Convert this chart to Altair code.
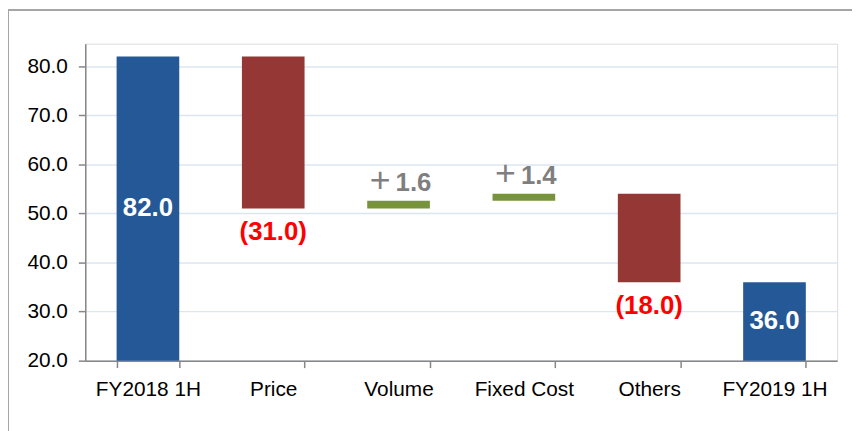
import altair as alt
import pandas as pd

categories = ["FY2018 1H", "Price", "Volume", "Fixed Cost", "Others", "FY2019 1H"]
amounts = [82.0, -31.0, 1.6, 1.4, -18.0, 36.0]
kinds = ["total", "delta", "delta", "delta", "delta", "total"]

y_ticks = [20, 30, 40, 50, 60, 70, 80]

rows = []
running = 0.0
for cat, amt, kind in zip(categories, amounts, kinds):
    if kind == "total":
        start, end = 0.0, amt
        running = amt
        label = f"{amt:.1f}"
        color = "#255896"
        ltype = "inside"
    else:
        start, end = running, running + amt
        running = end
        if amt < 0:
            label = f"({abs(amt):.1f})"
            color = "#953735"
            ltype = "below"
        else:
            label = f"{amt:.1f}"
            color = "#77933C"
            ltype = "above"
    rows.append(dict(cat=cat, start=start, end=end, lo=min(start, end), hi=max(start, end),
                     mid=(max(20.0, min(start, end)) + max(start, end)) / 2,
                     label=label, color=color, ltype=ltype))
df = pd.DataFrame(rows)

W, H = 759, 320
FONT = "Liberation Sans"

x = alt.X("cat:N", sort=categories, title=None,
          scale=alt.Scale(paddingInner=0.5, paddingOuter=0.25),
          axis=alt.Axis(labelAngle=0, labelFontSize=21, labelFont=FONT, labelColor="#000000",
                        domainColor="#868686", tickColor="#868686", tickSize=7, tickWidth=1.5,
                        domainWidth=1.5, tickBand="extent", labelPadding=11, grid=False))
yscale = alt.Scale(domain=[20, 84.6], nice=False, clamp=True, zero=False)

bars = alt.Chart(df).mark_bar().encode(
    x=x,
    y=alt.Y("lo:Q", scale=yscale, title=None,
            axis=alt.Axis(values=y_ticks, format=".1f", labelFontSize=21, labelFont=FONT,
                          labelColor="#000000", domainColor="#868686", domainWidth=1.5,
                          tickColor="#868686", tickSize=7, tickWidth=1.5, labelPadding=11,
                          grid=True, gridColor="#DCE6F2", gridWidth=1.5)),
    y2="hi:Q",
    color=alt.Color("color:N", scale=None),
)

xs = alt.X("cat:N", sort=categories)

inside = alt.Chart(df[df.ltype == "inside"]).mark_text(
    font=FONT, fontSize=26, fontWeight="bold", color="white", baseline="middle"
).encode(x=xs, y=alt.Y("mid:Q", scale=yscale), text="label:N")

below = alt.Chart(df[df.ltype == "below"]).mark_text(
    font=FONT, fontSize=26, fontWeight="bold", color="#FF0000", baseline="middle", dy=24
).encode(x=xs, y=alt.Y("lo:Q", scale=yscale), text="label:N")

above_num = alt.Chart(df[df.ltype == "above"]).mark_text(
    font=FONT, fontSize=26, fontWeight="bold", color="#7F7F7F", baseline="middle",
    align="left", dx=-3, dy=-18
).encode(x=xs, y=alt.Y("hi:Q", scale=yscale), text="label:N")

above_plus = alt.Chart(df[df.ltype == "above"]).mark_text(
    font=FONT, fontSize=36, fontWeight="normal", color="#7F7F7F", baseline="middle",
    align="right", dx=-8, dy=-20, text="+"
).encode(x=xs, y=alt.Y("hi:Q", scale=yscale))

frame = alt.Chart(pd.DataFrame({"k": [0]})).mark_rect(
    fill=None, stroke="#A6A6A6", strokeWidth=2
).encode(x=alt.value(-78), x2=alt.value(W + 60), y=alt.value(-34), y2=alt.value(H + 120))

chart = alt.layer(frame, bars, inside, below, above_num, above_plus).properties(
    width=W, height=H,
    autosize=alt.AutoSizeParams(type="none"),
    padding={"left": 78, "top": 34, "right": 15, "bottom": 69},
).configure_view(stroke=None).configure(background="white")

chart.save("out.html", embed_options={"renderer": "svg", "actions": False})
